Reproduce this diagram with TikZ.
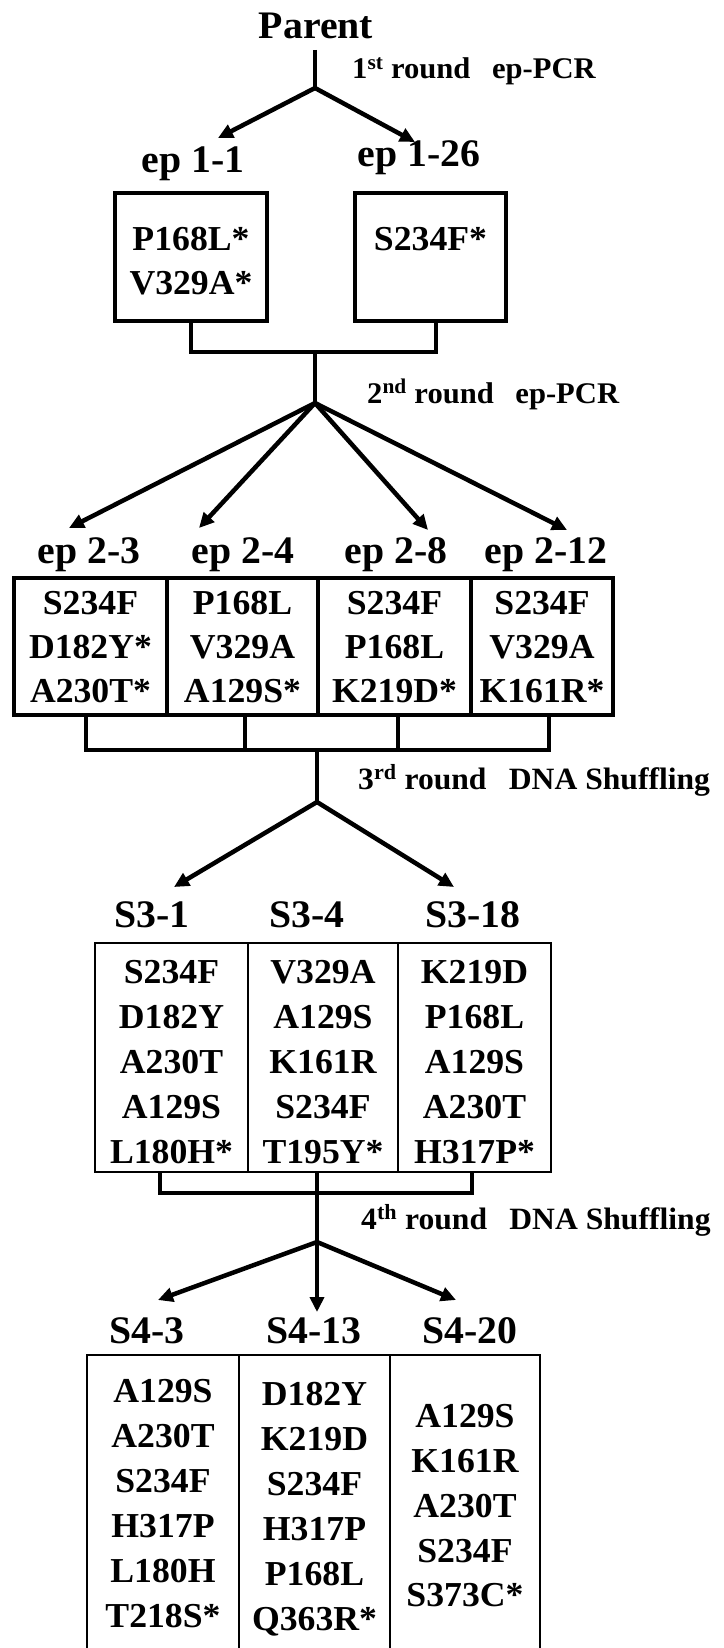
\documentclass[tikz,border=0pt]{standalone}
\usepackage{fontspec}
\setmainfont{Liberation Serif}[FakeStretch=1.02]
\usetikzlibrary{arrows.meta}
\begin{document}
\begin{tikzpicture}[x=1pt,y=-1pt,
  lbl/.style={anchor=base, inner sep=0pt, font=\fontsize{39}{42}\selectfont\bfseries},
  mut/.style={anchor=base, inner sep=0pt, font=\fontsize{35}{38}\selectfont\bfseries},
  rnd/.style={anchor=base west, inner sep=0pt, font=\fontsize{30}{32}\selectfont\bfseries},
  rndb/.style={anchor=base west, inner sep=0pt, font=\fontsize{31}{33}\selectfont\bfseries},
  conn/.style={line width=4pt, line join=miter},
  arr/.style={line width=4.5pt, -{Triangle[length=15pt,width=14pt]}},
  cellA/.style={draw, line width=3.5pt, inner sep=0pt, minimum width=#1},
  cellB/.style={draw, line width=2.5pt, inner sep=0pt, minimum width=#1},
]
\clip (0,0) rectangle (723,1648);
\fill[white] (0,0) rectangle (723,1648);

% ---------- Parent and 1st round ----------
\node[lbl] (parent) at (316,39) {Parent};
\coordinate (p0) at (315,50);
\coordinate (j1) at (315,88);
\node[rnd] (r1) at (352,79) {1\textsuperscript{st} round\hspace{0.72em}ep-PCR};
\coordinate (t11) at (218,138);
\coordinate (t126) at (415,142);
\draw[conn] (p0) -- (j1);
\draw[arr] (j1) -- (t11);
\draw[arr] (j1) -- (t126);

\node[lbl] (l11) at (193,173) {ep 1-1};
\node[lbl] (l126) at (419,167) {ep 1-26};

\node[cellA=152pt, minimum height=128pt] (b11) at (191,257) {};
\node[cellA=151pt, minimum height=128pt] (b126) at (430.5,257) {};
\node[mut] (m11a) at (191,250) {P168L*};
\node[mut] (m11b) at (191,294) {V329A*};
\node[mut] (m126a) at (430.5,250) {S234F*};

% ---------- connector to 2nd round ----------
\coordinate (h1) at (315,352);
\coordinate (j2) at (315,403);
\draw[conn] (b11.south) |- (h1) -| ([xshift=5pt]b126.south);
\draw[conn] (h1) -- (j2);
\node[rnd] (r2) at (367,403) {2\textsuperscript{nd} round\hspace{0.72em}ep-PCR};

\coordinate (t23) at (69,528);
\coordinate (t24) at (199,528);
\coordinate (t28) at (428,530);
\coordinate (t212) at (567,530);
\draw[arr] (j2) -- (t23);
\draw[arr] (j2) -- (t24);
\draw[arr] (j2) -- (t28);
\draw[arr] (j2) -- (t212);

\node[lbl] (l23) at (89,563) {ep 2-3};
\node[lbl] (l24) at (243,563) {ep 2-4};
\node[lbl] (l28) at (396,563) {ep 2-8};
\node[lbl] (l212) at (546,563) {ep 2-12};

\node[cellA=153pt, minimum height=137pt] (b23) at (90.5,646.5) {};
\node[cellA=151pt, minimum height=137pt] (b24) at (242.5,646.5) {};
\node[cellA=153pt, minimum height=137pt] (b28) at (394.5,646.5) {};
\node[cellA=142pt, minimum height=137pt] (b212) at (542,646.5) {};

\node[mut] (m23a) at (90.5,614) {S234F};
\node[mut] (m23b) at (90.5,658) {D182Y*};
\node[mut] (m23c) at (90.5,702) {A230T*};
\node[mut] (m24a) at (242.5,614) {P168L};
\node[mut] (m24b) at (242.5,658) {V329A};
\node[mut] (m24c) at (242.5,702) {A129S*};
\node[mut] (m28a) at (394.5,614) {S234F};
\node[mut] (m28b) at (394.5,658) {P168L};
\node[mut] (m28c) at (394.5,702) {K219D*};
\node[mut] (m212a) at (542,614) {S234F};
\node[mut] (m212b) at (542,658) {V329A};
\node[mut] (m212c) at (542,702) {K161R*};

% ---------- connector to 3rd round ----------
\coordinate (h2) at (317,750);
\coordinate (j3) at (317,802);
\draw[conn] ([xshift=-4.5pt]b23.south) |- ([xshift=6.5pt]b212.south |- h2) -- ([xshift=6.5pt]b212.south);
\draw[conn] ([xshift=2.5pt]b24.south) -- ([xshift=2.5pt]b24.south |- h2);
\draw[conn] ([xshift=3.5pt]b28.south) -- ([xshift=3.5pt]b28.south |- h2);
\draw[conn] (h2) -- (j3);
\node[rndb] (r3) at (358,789) {3\textsuperscript{rd} round\hspace{0.72em}DNA Shuffling};

\coordinate (t31) at (174,887);
\coordinate (t318) at (454,887);
\draw[arr] (j3) -- (t31);
\draw[arr] (j3) -- (t318);

\node[lbl] (l31) at (152,927) {S3-1};
\node[lbl] (l34) at (307,927) {S3-4};
\node[lbl] (l318) at (473,927) {S3-18};

\node[cellB=153pt, minimum height=229pt] (b31) at (171.5,1057.5) {};
\node[cellB=150pt, minimum height=229pt] (b34) at (323,1057.5) {};
\node[cellB=153pt, minimum height=229pt] (b318) at (474.5,1057.5) {};

\node[mut] (m31a) at (171.5,983) {S234F};
\node[mut] (m31b) at (171.5,1028) {D182Y};
\node[mut] (m31c) at (171.5,1073) {A230T};
\node[mut] (m31d) at (171.5,1118) {A129S};
\node[mut] (m31e) at (171.5,1163) {L180H*};
\node[mut] (m34a) at (323,983) {V329A};
\node[mut] (m34b) at (323,1028) {A129S};
\node[mut] (m34c) at (323,1073) {K161R};
\node[mut] (m34d) at (323,1118) {S234F};
\node[mut] (m34e) at (323,1163) {T195Y*};
\node[mut] (m318a) at (474.5,983) {K219D};
\node[mut] (m318b) at (474.5,1028) {P168L};
\node[mut] (m318c) at (474.5,1073) {A129S};
\node[mut] (m318d) at (474.5,1118) {A230T};
\node[mut] (m318e) at (474.5,1163) {H317P*};

% ---------- connector to 4th round ----------
\coordinate (h3) at (317,1193);
\coordinate (j4) at (317,1242);
\draw[conn] ([xshift=-11.5pt]b31.south) |- ([xshift=-2.5pt]b318.south |- h3) -- ([xshift=-2.5pt]b318.south);
\draw[conn] (b34.south -| h3) -- (j4);
\node[rndb] (r4) at (361,1229) {4\textsuperscript{th} round\hspace{0.72em}DNA Shuffling};

\coordinate (t43) at (158,1300);
\coordinate (t413) at (317,1312);
\coordinate (t420) at (456,1300);
\draw[arr] (j4) -- (t43);
\draw[arr] (j4) -- (t413);
\draw[arr] (j4) -- (t420);

\node[lbl] (l43) at (147,1343) {S4-3};
\node[lbl] (l413) at (314,1343) {S4-13};
\node[lbl] (l420) at (470,1343) {S4-20};

\node[cellB=152pt, minimum height=400pt] (b43) at (163,1555) {};
\node[cellB=151pt, minimum height=400pt] (b413) at (314.5,1555) {};
\node[cellB=150pt, minimum height=400pt] (b420) at (465,1555) {};

\node[mut] (m43a) at (163,1402) {A129S};
\node[mut] (m43b) at (163,1447) {A230T};
\node[mut] (m43c) at (163,1492) {S234F};
\node[mut] (m43d) at (163,1537) {H317P};
\node[mut] (m43e) at (163,1582) {L180H};
\node[mut] (m43f) at (163,1627) {T218S*};
\node[mut] (m413a) at (314.5,1405) {D182Y};
\node[mut] (m413b) at (314.5,1450) {K219D};
\node[mut] (m413c) at (314.5,1495) {S234F};
\node[mut] (m413d) at (314.5,1540) {H317P};
\node[mut] (m413e) at (314.5,1585) {P168L};
\node[mut] (m413f) at (314.5,1630) {Q363R*};
\node[mut] (m420a) at (465,1427) {A129S};
\node[mut] (m420b) at (465,1472) {K161R};
\node[mut] (m420c) at (465,1517) {A230T};
\node[mut] (m420d) at (465,1562) {S234F};
\node[mut] (m420e) at (465,1606) {S373C*};
\end{tikzpicture}
\end{document}
